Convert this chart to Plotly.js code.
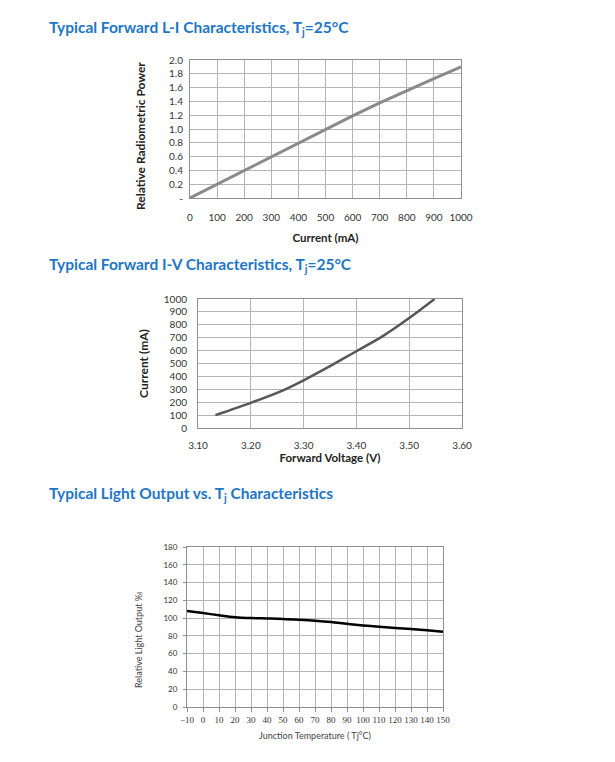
<!DOCTYPE html>
<html>
<head>
<meta charset="utf-8">
<script src="https://cdn.plot.ly/plotly-3.0.1.min.js"></script>
<style>html,body{margin:0;padding:0;background:#fff;}#chart{width:615px;height:762px;}</style>
</head>
<body>
<div id="chart"></div>
<script>
// Chart 1: L-I
const liCurrent = [0, 100, 200, 300, 400, 500, 600, 700, 800, 900, 1000];
const liPower = [0, 0.2, 0.4, 0.6, 0.8, 1.0, 1.19, 1.38, 1.56, 1.73, 1.9];
const liYTickVals = [0, 0.2, 0.4, 0.6, 0.8, 1.0, 1.2, 1.4, 1.6, 1.8, 2.0];
const liYTickText = ['-', '0.2', '0.4', '0.6', '0.8', '1.0', '1.2', '1.4', '1.6', '1.8', '2.0'];

// Chart 2: I-V
const ivVoltage = [3.133, 3.20, 3.26, 3.30, 3.35, 3.40, 3.45, 3.50, 3.548];
const ivCurrent = [100, 195, 290, 370, 480, 595, 712, 852, 1000];
const ivXTickVals = [3.1, 3.2, 3.3, 3.4, 3.5, 3.6];
const ivXTickText = ['3.10', '3.20', '3.30', '3.40', '3.50', '3.60'];

// Chart 3: Light output vs Tj
const tjTemp = [-10, 0, 10, 20, 30, 40, 50, 60, 70, 80, 90, 100, 110, 120, 130, 140, 150];
const tjOutput = [108, 105.7, 103.2, 101, 100, 99.6, 99.1, 98.2, 97.1, 95.6, 93.6, 91.8, 90.3, 88.9, 87.7, 86.3, 84.7];

const titles = [
  'Typical Forward L-I Characteristics, T<sub>j</sub>=25°C',
  'Typical Forward I-V Characteristics, T<sub>j</sub>=25°C',
  'Typical Light Output vs. T<sub>j</sub> Characteristics'
];

const W = 615, H = 762;
const fx = v => v / W;
const fy = v => 1 - v / H;

const sans = 'Lato, "Open Sans", sans-serif';
const blue = '#1e76c6';

const traces = [
  {x: liCurrent, y: liPower, xaxis: 'x', yaxis: 'y', mode: 'lines',
   line: {color: '#8a8a8a', width: 3}, hoverinfo: 'skip'},
  {x: ivVoltage, y: ivCurrent, xaxis: 'x2', yaxis: 'y2', mode: 'lines',
   line: {color: '#575757', width: 2.5, shape: 'spline', smoothing: 0.8}, hoverinfo: 'skip'},
  {x: tjTemp, y: tjOutput, xaxis: 'x3', yaxis: 'y3', mode: 'lines',
   line: {color: '#000000', width: 2.5, shape: 'spline'}, hoverinfo: 'skip'}
];

const gridC = '#b4b4b4';
const lineC = '#8f8f8f';

const layout = {
  width: W, height: H,
  margin: {l: 0, r: 0, t: 0, b: 0},
  paper_bgcolor: '#fff', plot_bgcolor: '#fff',
  showlegend: false,
  font: {family: sans, color: '#333'},
  xaxis: {
    domain: [fx(190), fx(461)], anchor: 'y', range: [0, 1000],
    tickvals: liCurrent, ticktext: liCurrent.map(String),
    showgrid: true, gridcolor: gridC, gridwidth: 1,
    showline: true, linecolor: lineC, mirror: true, zeroline: false,
    ticks: '', ticklabelstandoff: 10,
    tickfont: {size: 10, family: sans, color: '#333'},
    title: {text: '<b>Current (mA)</b>', font: {size: 11.5, family: sans, color: '#222'}, standoff: 11}
  },
  yaxis: {
    domain: [fy(198), fy(60)], anchor: 'x', range: [0, 2.0],
    tickvals: liYTickVals, ticktext: liYTickText,
    showgrid: true, gridcolor: gridC, gridwidth: 1,
    showline: true, linecolor: lineC, mirror: true, zeroline: false,
    ticks: '', ticklabelstandoff: 4,
    tickfont: {size: 10, family: sans, color: '#333'}
  },
  xaxis2: {
    domain: [fx(198), fx(462)], anchor: 'y2', range: [3.1, 3.6],
    tickvals: ivXTickVals, ticktext: ivXTickText,
    showgrid: true, gridcolor: gridC, gridwidth: 1,
    showline: true, linecolor: lineC, mirror: true, zeroline: false,
    ticks: '', ticklabelstandoff: 8,
    tickfont: {size: 10, family: sans, color: '#333'},
    title: {text: '<b>Forward Voltage (V)</b>', font: {size: 11.5, family: sans, color: '#222'}, standoff: 3}
  },
  yaxis2: {
    domain: [fy(428), fy(299)], anchor: 'x2', range: [0, 1000],
    dtick: 100, tick0: 0,
    showgrid: true, gridcolor: gridC, gridwidth: 1,
    showline: true, linecolor: lineC, mirror: true, zeroline: false,
    ticks: '', ticklabelstandoff: 8,
    tickfont: {size: 10, family: sans, color: '#333'},
    title: {text: '<b>Current (mA)</b>', font: {size: 12, family: sans, color: '#222'}, standoff: 12}
  },
  xaxis3: {
    domain: [fx(187), fx(443)], anchor: 'y3', range: [-10, 150],
    dtick: 10, tick0: -10, tickangle: 0,
    showgrid: true, gridcolor: gridC, gridwidth: 1,
    showline: true, linecolor: lineC, mirror: true, zeroline: false,
    ticks: 'outside', ticklen: 4, tickcolor: lineC, ticklabelstandoff: 0,
    tickfont: {size: 9, family: '"Liberation Serif", serif', color: '#333'},
    title: {text: 'Junction Temperature ( Tj°C)', font: {size: 9, family: sans, color: '#444'}, standoff: 8}
  },
  yaxis3: {
    domain: [fy(707), fy(547)], anchor: 'x3', range: [0, 180],
    dtick: 20, tick0: 0,
    showgrid: true, gridcolor: gridC, gridwidth: 1,
    showline: true, linecolor: lineC, mirror: true, zeroline: false,
    ticks: 'outside', ticklen: 3, tickcolor: lineC, ticklabelstandoff: 4,
    tickfont: {size: 8, family: sans, color: '#333'}
  },
  annotations: [
    {text: '<b>' + titles[0] + '</b>', x: fx(47), y: fy(28), xref: 'paper', yref: 'paper',
     xanchor: 'left', yanchor: 'middle', showarrow: false, font: {size: 15.5, family: sans, color: blue}},
    {text: '<b>' + titles[1] + '</b>', x: fx(47), y: fy(265), xref: 'paper', yref: 'paper',
     xanchor: 'left', yanchor: 'middle', showarrow: false, font: {size: 15.5, family: sans, color: blue}},
    {text: '<b>' + titles[2] + '</b>', x: fx(47), y: fy(494), xref: 'paper', yref: 'paper',
     xanchor: 'left', yanchor: 'middle', showarrow: false, font: {size: 15.5, family: sans, color: blue}},
    {text: '<b>Relative Radiometric Power</b>', x: fx(140), y: fy(136), xref: 'paper', yref: 'paper',
     xanchor: 'center', yanchor: 'middle', textangle: -90, showarrow: false,
     font: {size: 12, family: sans, color: '#222'}},
    {text: 'Relative Light Output %ı', x: fx(138), y: fy(640), xref: 'paper', yref: 'paper',
     xanchor: 'center', yanchor: 'middle', textangle: -90, showarrow: false,
     font: {size: 9, family: sans, color: '#444'}}
  ]
};

Plotly.newPlot('chart', traces, layout, {staticPlot: true, displayModeBar: false});
</script>
</body>
</html>
